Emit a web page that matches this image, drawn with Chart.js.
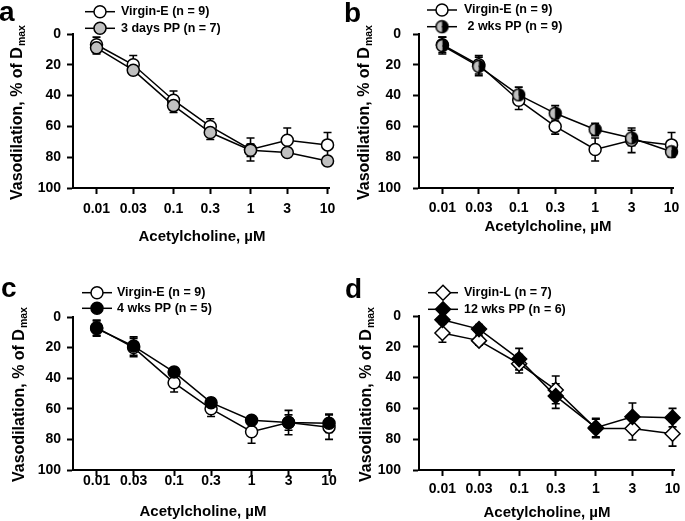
<!DOCTYPE html>
<html><head><meta charset="utf-8">
<script src="https://cdn.jsdelivr.net/npm/chart.js@4.4.1/dist/chart.umd.min.js"></script>
<style>
html,body{margin:0;padding:0;background:#fff;}
#wrap{position:relative;width:685px;height:521px;overflow:hidden;background:#fff;}
canvas{position:absolute;}
</style></head><body>
<div id="wrap">
<canvas id="ca" width="342" height="260" style="left:0px;top:0px"></canvas>
<canvas id="cb" width="343" height="260" style="left:342px;top:0px"></canvas>
<canvas id="cc" width="342" height="261" style="left:0px;top:260px"></canvas>
<canvas id="cd" width="343" height="261" style="left:342px;top:260px"></canvas>
</div>
<script>
// ---- data ----
const concentrations = [0.01, 0.03, 0.1, 0.3, 1, 3, 10];
const xTickLabels = ['0.01', '0.03', '0.1', '0.3', '1', '3', '10'];
const yTickValues = [0, 20, 40, 60, 80, 100];

const virginE    = [7, 20, 43, 60, 75, 69, 72];
const virginEErr = [5, 6, 6, 5, 7.5, 8, 8];
const pp3d       = [9, 23.5, 46.5, 64, 75.5, 77, 82.5];
const pp3dErr    = [4, 3, 4.5, 4.5, 4, 3, 3];
const pp2w       = [7.5, 21, 39.5, 51.5, 62, 67.5, 76.5];
const pp2wErr    = [5.5, 6, 5, 5, 4, 5, 3];
const pp4w       = [7.5, 19, 36, 56, 67.5, 69, 69.5];
const pp4wErr    = [5, 6, 3, 3, 3, 5, 6];
const virginL    = [11, 16, 31, 48, 73, 73, 76.5];
const virginLErr = [6, 3, 6, 9, 6, 7.5, 8];
const pp12w      = [2.5, 8.5, 28, 52, 72.5, 65.5, 66];
const pp12wErr   = [2, 3, 7, 8, 6, 9, 6];

const panelLetters = ['a', 'b', 'c', 'd'];
const legendA = ['Virgin-E (n = 9)', '3 days PP (n = 7)'];
const legendB = ['Virgin-E (n = 9)', ' 2 wks PP (n = 9)'];
const legendC = ['Virgin-E (n = 9)', '4 wks PP (n = 5)'];
const legendD = ['Virgin-L (n = 7)', '12 wks PP (n = 6)'];
const xAxisTitle = 'Acetylcholine, \u00B5M';
const yAxisTitleMain = 'Vasodilation, % of D';
const yAxisTitleSub = 'max';

// ---- styles ----
const FONT = '"Liberation Sans", Arial, Helvetica, sans-serif';
function makeHalfCircle() {
  const c = document.createElement('canvas');
  c.width = 15; c.height = 15;
  const g = c.getContext('2d');
  const cx = 7.5, cy = 7.5, r = 6;
  g.fillStyle = '#c0c0c0';
  g.beginPath(); g.arc(cx, cy, r, Math.PI / 2, Math.PI * 1.5); g.closePath(); g.fill();
  g.fillStyle = '#000';
  g.beginPath(); g.arc(cx, cy, r, -Math.PI / 2, Math.PI / 2); g.closePath(); g.fill();
  g.strokeStyle = '#000'; g.lineWidth = 1.5;
  g.beginPath(); g.arc(cx, cy, r, 0, Math.PI * 2); g.stroke();
  return c;
}
const halfImg = makeHalfCircle();
const markerStyles = {
  whiteCircle:  {pointStyle: 'circle', pointRadius: 6, pointBackgroundColor: '#ffffff'},
  grayCircle:   {pointStyle: 'circle', pointRadius: 6, pointBackgroundColor: '#c0c0c0'},
  blackCircle:  {pointStyle: 'circle', pointRadius: 6, pointBackgroundColor: '#000000'},
  halfCircle:   {pointStyle: halfImg, pointRadius: 7, pointBackgroundColor: '#000000'},
  whiteDiamond: {pointStyle: 'rectRot', pointRadius: 7.5, pointBackgroundColor: '#ffffff'},
  blackDiamond: {pointStyle: 'rectRot', pointRadius: 7.5, pointBackgroundColor: '#000000'}
};

const panels = [
  {id: 'ca', letter: panelLetters[0], letterPos: [-1, 21], plot: {l: 73, r: 331, t: 34, b: 188},
   series: [[legendA[0], virginE, virginEErr, 'whiteCircle'], [legendA[1], pp3d, pp3dErr, 'grayCircle']],
   legend: {rows: [11.7, 28.3], line: [85, 115], text: 121},
   yTitle: {x: 18, bottom: 200}, xTitle: {x: 202, y: 237}, xTickPad: 6.6, yTickPad: 6},
  {id: 'cb', letter: panelLetters[1], letterPos: [2, 22], plot: {l: 77, r: 335, t: 34, b: 188},
   series: [[legendB[0], virginE, virginEErr, 'whiteCircle'], [legendB[1], pp2w, pp2wErr, 'halfCircle']],
   legend: {rows: [10, 26.7], line: [85, 115], text: 122},
   yTitle: {x: 23, bottom: 200}, xTitle: {x: 206, y: 227}, xTickPad: 5.6, yTickPad: 12},
  {id: 'cc', letter: panelLetters[2], letterPos: [1, 37], plot: {l: 73, r: 331, t: 57, b: 210},
   series: [[legendC[0], virginE, virginEErr, 'whiteCircle'], [legendC[1], pp4w, pp4wErr, 'blackCircle']],
   legend: {rows: [32.7, 48.3], line: [82, 112], text: 117},
   yTitle: {x: 20, bottom: 222}, xTitle: {x: 203, y: 251.7}, xTickPad: -3, yTickPad: 6},
  {id: 'cd', letter: panelLetters[3], letterPos: [3, 38], plot: {l: 77, r: 335, t: 56, b: 210},
   series: [[legendD[0], virginL, virginLErr, 'whiteDiamond'], [legendD[1], pp12w, pp12wErr, 'blackDiamond']],
   legend: {rows: [32.7, 49.3], line: [86, 116], text: 122},
   yTitle: {x: 25, bottom: 222}, xTitle: {x: 205, y: 253}, xTickPad: 4.6, yTickPad: 12}
];

const errorBarsPlugin = {
  id: 'errorBars',
  beforeDatasetsDraw(chart) {
    const ctx = chart.ctx, xs = chart.scales.x, ys = chart.scales.y;
    ctx.save();
    ctx.strokeStyle = '#000'; ctx.lineWidth = 1.6;
    chart.data.datasets.forEach(ds => {
      ds.data.forEach((p, i) => {
        const e = ds.errors[i];
        const px = xs.getPixelForValue(p.x);
        const y1 = ys.getPixelForValue(p.y - e), y2 = ys.getPixelForValue(p.y + e);
        ctx.beginPath();
        ctx.moveTo(px, y1); ctx.lineTo(px, y2);
        ctx.moveTo(px - 4, y1); ctx.lineTo(px + 4, y1);
        ctx.moveTo(px - 4, y2); ctx.lineTo(px + 4, y2);
        ctx.stroke();
      });
    });
    ctx.restore();
  }
};

const decorPlugin = {
  id: 'decor',
  afterDraw(chart) {
    const cfg = chart.options.plugins.decor;
    const ctx = chart.ctx;
    ctx.save();
    ctx.fillStyle = '#000';
    // panel letter
    ctx.font = 'bold 28px ' + FONT;
    ctx.textAlign = 'left'; ctx.textBaseline = 'alphabetic';
    ctx.fillText(cfg.letter, cfg.letterPos[0], cfg.letterPos[1]);
    // legend
    chart.data.datasets.forEach((ds, i) => {
      const y = cfg.legend.rows[i];
      ctx.strokeStyle = '#000'; ctx.lineWidth = 1.5;
      ctx.beginPath(); ctx.moveTo(cfg.legend.line[0], y); ctx.lineTo(cfg.legend.line[1], y); ctx.stroke();
      const mx = (cfg.legend.line[0] + cfg.legend.line[1]) / 2;
      ctx.fillStyle = ds.pointBackgroundColor; ctx.strokeStyle = '#000'; ctx.lineWidth = 1.5;
      Chart.helpers.drawPoint(ctx, {pointStyle: ds.pointStyle, radius: ds.pointRadius, rotation: 0, borderWidth: 1.5}, mx, y);
      ctx.fillStyle = '#000';
      ctx.font = 'bold 12.5px ' + FONT;
      ctx.textAlign = 'left'; ctx.textBaseline = 'middle';
      ctx.fillText(ds.label, cfg.legend.text, y);
    });
    // y title with subscript
    ctx.save();
    ctx.translate(cfg.yTitle.x, cfg.yTitle.bottom);
    ctx.rotate(-Math.PI / 2);
    ctx.font = 'bold 16px ' + FONT;
    ctx.textAlign = 'left'; ctx.textBaseline = 'middle';
    ctx.fillText(yAxisTitleMain, 0, 0);
    const w = ctx.measureText(yAxisTitleMain).width;
    ctx.font = 'bold 10.5px ' + FONT;
    ctx.fillText(yAxisTitleSub, w + 1, 4.5);
    ctx.restore();
    // x title
    ctx.font = 'bold 15px ' + FONT;
    ctx.textAlign = 'center'; ctx.textBaseline = 'middle';
    ctx.fillText(xAxisTitle, cfg.xTitle.x, cfg.xTitle.y);
    ctx.restore();
  }
};

panels.forEach(p => {
  const canvas = document.getElementById(p.id);
  const W = canvas.width, H = canvas.height;
  const datasets = p.series.map((s, idx) => Object.assign({
    label: s[0],
    data: concentrations.map((c, i) => ({x: c, y: s[1][i]})),
    errors: s[2],
    borderColor: '#000', borderWidth: 1.5,
    pointBorderColor: '#000', pointBorderWidth: 1.5,
    fill: false, tension: 0, clip: false,
    order: idx === 0 ? 1 : 0
  }, markerStyles[s[3]]));
  new Chart(canvas, {
    type: 'line',
    data: {datasets},
    plugins: [errorBarsPlugin, decorPlugin],
    options: {
      responsive: false, animation: false, devicePixelRatio: 1,
      layout: {padding: {left: 0, top: p.plot.t, right: W - p.plot.r, bottom: 0}},
      plugins: {legend: {display: false}, tooltip: {enabled: false}, decor: p},
      scales: {
        x: {
          type: 'logarithmic', min: 0.00495, max: 10.6,
          afterFit(scale) { scale.height = H - p.plot.b; },
          afterBuildTicks(scale) { scale.ticks = concentrations.map(v => ({value: v})); },
          grid: {display: true, drawOnChartArea: false, drawTicks: true, tickLength: 6, tickWidth: 2, tickColor: '#000', color: '#000'},
          border: {display: true, color: '#000', width: 2},
          ticks: {
            autoSkip: false, maxRotation: 0, minRotation: 0, padding: p.xTickPad,
            color: '#000', font: {family: FONT, size: 14, weight: 'bold'},
            callback: (v) => { const k = concentrations.indexOf(v); return k >= 0 ? xTickLabels[k] : ''; }
          }
        },
        y: {
          type: 'linear', reverse: true, min: 0, max: 100,
          afterFit(scale) { scale.width = p.plot.l; },
          afterBuildTicks(scale) { scale.ticks = yTickValues.map(v => ({value: v})); },
          grid: {display: true, drawOnChartArea: false, drawTicks: true, tickLength: 6, tickWidth: 2, tickColor: '#000', color: '#000'},
          border: {display: true, color: '#000', width: 2},
          ticks: {padding: p.yTickPad, color: '#000', font: {family: FONT, size: 14, weight: 'bold'}}
        }
      }
    }
  });
});
</script>
</body></html>
